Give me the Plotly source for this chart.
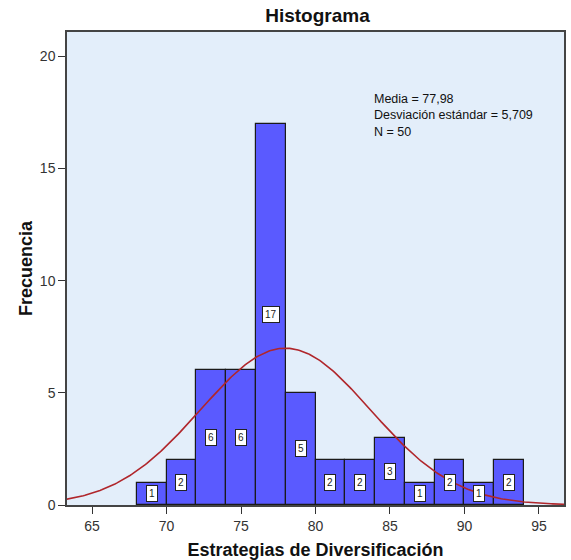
import numpy as np
import plotly.graph_objects as go

bin_starts = [68, 70, 72, 74, 76, 78, 80, 82, 84, 86, 88, 90, 92]
counts = [1, 2, 6, 6, 17, 5, 2, 2, 3, 1, 2, 1, 2]
bin_width = 2
mean_val = 77.98
sd_val = 5.709
n_val = 50
x_ticks = [65, 70, 75, 80, 85, 90, 95]
y_ticks = [0, 5, 10, 15, 20]

centers = [s + bin_width / 2 for s in bin_starts]
FONT = "Liberation Sans, Arial"

fig = go.Figure()
fig.add_trace(go.Bar(
    x=centers, y=counts, width=bin_width,
    marker=dict(color="#5A5AFF", line=dict(color="#1a1a1a", width=1.2)),
    hoverinfo="skip", showlegend=False,
))

xs = np.linspace(63.3, 96.7, 300)
ys = n_val * bin_width / (sd_val * np.sqrt(2 * np.pi)) * np.exp(-0.5 * ((xs - mean_val) / sd_val) ** 2)
fig.add_trace(go.Scatter(x=xs, y=ys, mode="lines",
                         line=dict(color="#B0262B", width=1.6),
                         hoverinfo="skip", showlegend=False))

for c, v in zip(centers, counts):
    fig.add_annotation(x=c, y=v / 2, text=str(v), showarrow=False,
                       font=dict(family=FONT, size=10, color="#222"),
                       bgcolor="white", bordercolor="#222", borderwidth=1, borderpad=2)

stat_text = "<br>".join([
    f"Media = {mean_val:.2f}".replace(".", ","),
    f"Desviación estándar = {sd_val:.3f}".replace(".", ","),
    f"N = {n_val}",
])
fig.add_annotation(
    x=0.615, y=0.876, xref="paper", yref="paper",
    xanchor="left", yanchor="top", align="left", showarrow=False,
    text=stat_text, font=dict(family=FONT, size=12.5, color="#111"),
    borderpad=0,
)

fig.update_layout(
    width=571, height=560,
    margin=dict(l=67, r=7, t=32, b=55),
    paper_bgcolor="white", plot_bgcolor="#E3EEFA",
    bargap=0,
    font=dict(family=FONT, color="#333"),
    title=dict(text="<b>Histograma</b>", x=0.556, xanchor="center", y=0.972, yanchor="middle",
               font=dict(size=19, color="#111")),
    xaxis=dict(range=[63.32, 96.68], tickvals=x_ticks, ticks="outside", ticklen=7,
               tickcolor="#333", tickfont=dict(size=14, color="#333"),
               showgrid=False, zeroline=False, showline=True, mirror=True,
               linecolor="#444", linewidth=1.5, automargin=False,
               title=dict(text="<b>Estrategias de Diversificación</b>",
                          font=dict(size=18, color="#111"), standoff=12)),
    yaxis=dict(range=[0, 21.08], tickvals=y_ticks, ticks="outside", ticklen=7,
               tickcolor="#333", tickfont=dict(size=14, color="#333"),
               showgrid=False, zeroline=False, showline=True, mirror=True,
               linecolor="#444", linewidth=1.5, automargin=False,
               title=dict(text="<b>Frecuencia</b>", font=dict(size=18, color="#111"), standoff=3)),
)

fig.write_html("out.html")
